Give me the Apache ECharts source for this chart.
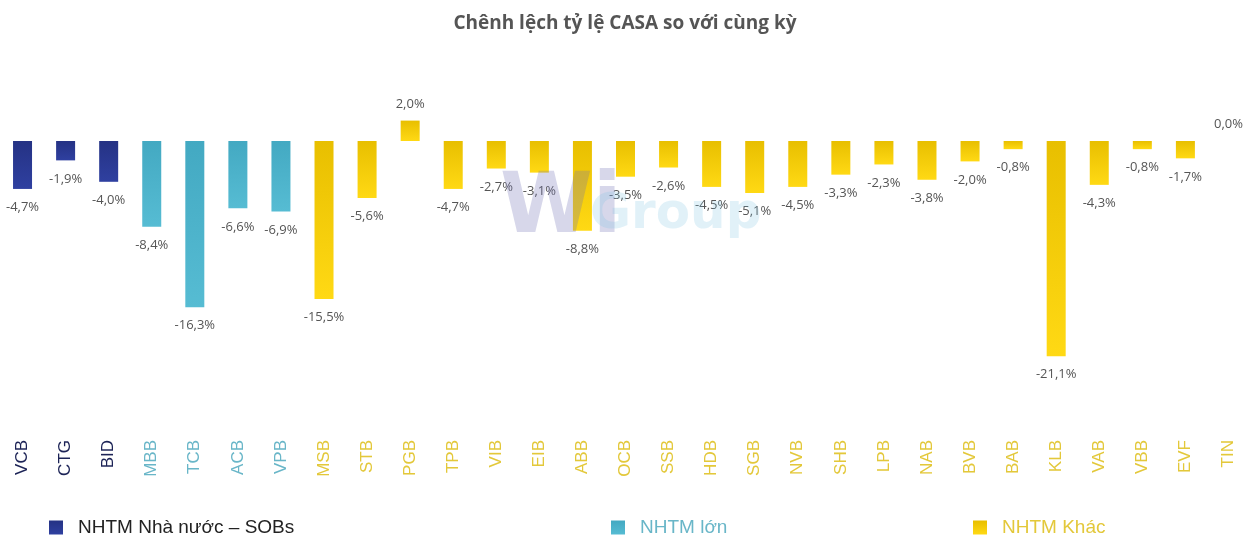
<!DOCTYPE html>
<html>
<head>
<meta charset="utf-8">
<title>Chênh lệch tỷ lệ CASA</title>
<script src="https://cdn.jsdelivr.net/npm/echarts@6/dist/echarts.min.js"></script>
<style>
  html, body { margin: 0; padding: 0; background: #fff; }
  #chart { width: 1250px; height: 537px; }
</style>
</head>
<body>
<div id="chart"></div>
<script>
// ngân hàng theo nhóm
const banks = ['VCB', 'CTG', 'BID', 'MBB', 'TCB', 'ACB', 'VPB', 'MSB', 'STB', 'PGB',
  'TPB', 'VIB', 'EIB', 'ABB', 'OCB', 'SSB', 'HDB', 'SGB', 'NVB', 'SHB',
  'LPB', 'NAB', 'BVB', 'BAB', 'KLB', 'VAB', 'VBB', 'EVF', 'TIN']
const groups = ['SOB', 'SOB', 'SOB', 'BIG', 'BIG', 'BIG', 'BIG', 'OTH', 'OTH', 'OTH',
  'OTH', 'OTH', 'OTH', 'OTH', 'OTH', 'OTH', 'OTH', 'OTH', 'OTH', 'OTH',
  'OTH', 'OTH', 'OTH', 'OTH', 'OTH', 'OTH', 'OTH', 'OTH', 'OTH']
const casaDiff = [-4.7, -1.9, -4.0, -8.4, -16.3, -6.6, -6.9, -15.5, -5.6, 2.0,
  -4.7, -2.7, -3.1, -8.8, -3.5, -2.6, -4.5, -5.1, -4.5, -3.3,
  -2.3, -3.8, -2.0, -0.8, -21.1, -4.3, -0.8, -1.7, 0.0]

const groupNames = { SOB: 'NHTM Nhà nước – SOBs', BIG: 'NHTM lớn', OTH: 'NHTM Khác' }
const labelColors = { SOB: '#1c2356', BIG: '#69b6c8', OTH: '#e3c83a' }
const barColors = {
  SOB: ['#253284', '#2f40a0'],
  BIG: ['#43a9c2', '#56bcd3'],
  OTH: ['#e8bf00', '#ffd914']
}

const chart = echarts.init(document.getElementById('chart'))

const fmt = v => v.toFixed(1).replace('.', ',') + '%'

function seriesFor(g) {
  const data = casaDiff.map((v, i) => {
    if (groups[i] !== g) return '-'
    return {
      value: v,
      label: { position: v >= 0 ? 'top' : 'bottom', distance: v >= 0 ? 10 : 12 }
    }
  })
  return {
    name: groupNames[g],
    type: 'bar',
    stack: 'all',
    barWidth: 19,
    data: data,
    itemStyle: {
      color: new echarts.graphic.LinearGradient(0, 0, 0, 1, [
        { offset: 0, color: barColors[g][0] },
        { offset: 1, color: barColors[g][1] }
      ])
    },
    label: {
      show: true,
      color: '#555',
      fontSize: 13,
      fontFamily: 'Open Sans',
      formatter: p => fmt(p.value)
    }
  }
}

function legendFor(g, left) {
  return {
    data: [groupNames[g]],
    left: left,
    top: 513,
    icon: 'rect',
    itemWidth: 14,
    itemHeight: 14,
    selectedMode: false,
    textStyle: {
      color: g === 'SOB' ? '#222' : labelColors[g],
      fontSize: 19,
      fontFamily: 'Liberation Sans',
      padding: [0, 0, 0, 10]
    }
  }
}

const option = {
  animation: false,
  title: {
    text: 'Chênh lệch tỷ lệ CASA so với cùng kỳ',
    left: 'center',
    top: 9,
    textStyle: { color: '#555', fontSize: 19, fontWeight: 'bold', fontFamily: 'Open Sans' }
  },
  legend: [legendFor('SOB', 44), legendFor('BIG', 606), legendFor('OTH', 968)],
  grid: { left: 1, right: 0, top: 110.4, bottom: 141 },
  xAxis: {
    type: 'category',
    data: banks,
    axisLine: { show: false },
    axisTick: { show: false },
    axisLabel: {
      rotate: 90,
      margin: 44,
      interval: 0,
      fontSize: 17,
      fontFamily: 'Liberation Sans',
      color: (v, i) => labelColors[groups[i]]
    }
  },
  yAxis: {
    type: 'value',
    min: -25,
    max: 3,
    show: false
  },
  // logo mờ WiGroup
  graphic: [
    {
      type: 'text', left: 500, top: 168, z: 100,
      style: { text: 'Wi', fontSize: 84, fontWeight: 'bold', fontFamily: 'DejaVu Sans', fill: 'rgba(110,110,180,0.28)' }
    },
    {
      type: 'text', left: 590, top: 190, z: 100,
      style: { text: 'Group', fontSize: 50, fontWeight: 'bold', fontFamily: 'DejaVu Sans', fill: 'rgba(120,190,225,0.22)' }
    }
  ],
  series: ['SOB', 'BIG', 'OTH'].map(seriesFor)
}

chart.setOption(option)
</script>
</body>
</html>
